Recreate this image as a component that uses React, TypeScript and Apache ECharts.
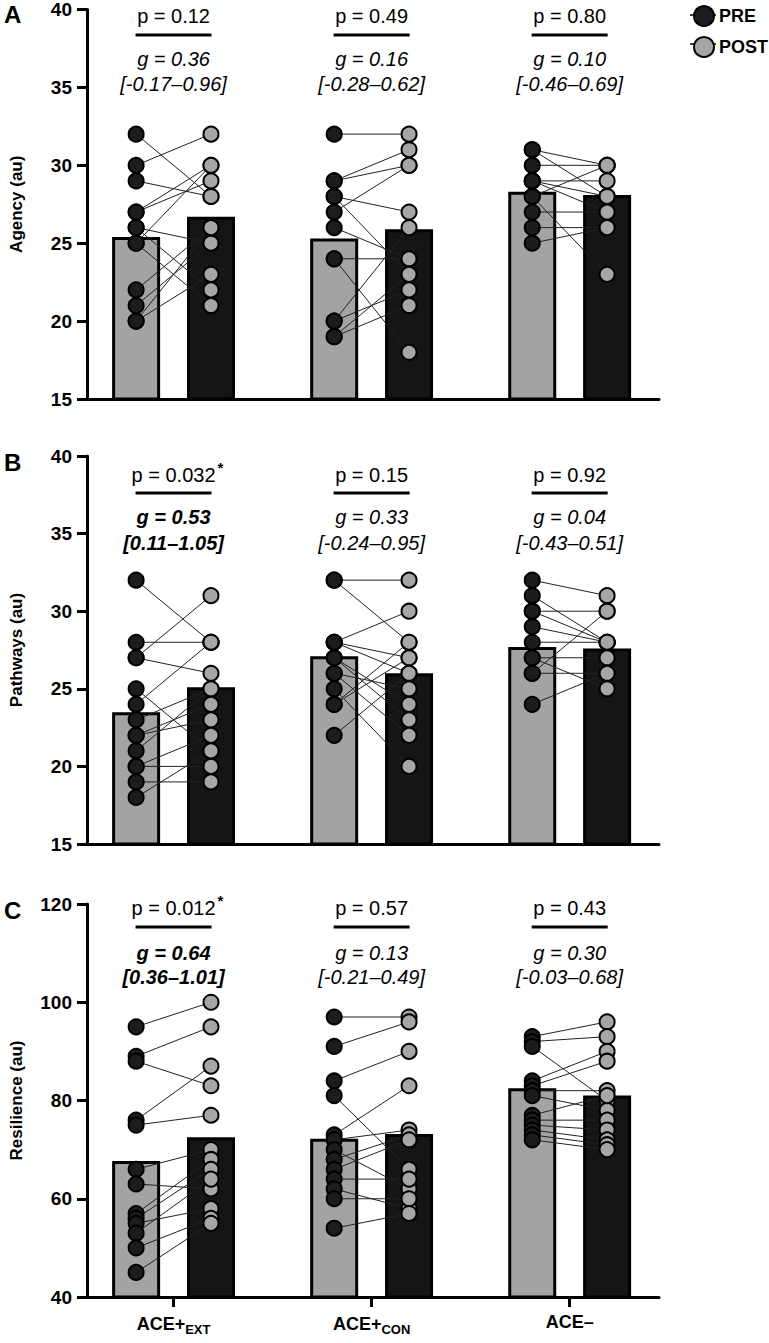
import React, { useEffect, useRef } from "react";
import * as echarts from "echarts";

// ---------- DATA ----------
const groupLabels = ["ACE+EXT", "ACE+CON", "ACE–"];

// Panel A – Agency
const agencyPreMean = [25.3, 25.2, 28.2];
const agencyPostMean = [26.6, 25.8, 28.0];
const agencyExtPre = [32, 30, 29, 27, 27, 26, 26, 25, 25, 22, 21, 20, 20];
const agencyExtPost = [28, 32, 28, 30, 29, 25, 22, 30, 21, 26, 25, 26, 23];
const agencyConPre = [32, 29, 29, 28, 28, 27, 26, 24, 24, 20, 20, 19, 19];
const agencyConPost = [32, 31, 30, 27, 23, 30, 24, 24, 18, 26, 22, 21, 23];
const agencyNegPre = [31, 31, 30, 29, 29, 29, 28, 28, 27, 26, 25];
const agencyNegPost = [30, 28, 30, 29, 28, 27, 30, 23, 27, 26, 26];
const agencyP = ["p = 0.12", "p = 0.49", "p = 0.80"];
const agencyG = ["g = 0.36", "g = 0.16", "g = 0.10"];
const agencyCI = ["[-0.17–0.96]", "[-0.28–0.62]", "[-0.46–0.69]"];
const agencySig = [false, false, false];

// Panel B – Pathways
const pathPreMean = [23.4, 27.0, 27.6];
const pathPostMean = [25.0, 25.9, 27.5];
const pathExtPre = [32, 28, 27, 27, 25, 24, 23, 22, 22, 21, 20, 20, 19, 18];
const pathExtPost = [28, 28, 31, 26, 21, 28, 25, 24, 23, 25, 22, 20, 19, 21];
const pathConPre = [32, 32, 28, 28, 28, 27, 27, 26, 26, 25, 24, 24, 22];
const pathConPost = [32, 28, 30, 27, 26, 23, 24, 22, 25, 20, 27, 28, 26];
const pathNegPre = [32, 31, 30, 30, 29, 28, 27, 27, 26, 26, 24];
const pathNegPost = [31, 28, 30, 28, 28, 28, 27, 25, 26, 30, 26];
const pathP = ["p = 0.032", "p = 0.15", "p = 0.92"];
const pathG = ["g = 0.53", "g = 0.33", "g = 0.04"];
const pathCI = ["[0.11–1.05]", "[-0.24–0.95]", "[-0.43–0.51]"];
const pathSig = [true, false, false];

// Panel C – Resilience
const resPreMean = [67.4, 71.9, 82.2];
const resPostMean = [72.2, 72.9, 80.7];
const resExtPre = [95, 89, 88, 76, 75, 66, 63, 57, 56, 55, 53, 50, 45];
const resExtPost = [100, 95, 83, 87, 77, 70, 62, 68, 66, 58, 64, 56, 55];
const resConPre = [97, 91, 84, 81, 73, 72, 70, 68, 66, 64, 62, 60, 54];
const resConPost = [97, 96, 90, 66, 83, 74, 62, 73, 72, 64, 58, 60, 57];
const resNegPre = [93, 92, 91, 84, 83, 82, 81, 77, 76, 75, 74, 73, 72];
const resNegPost = [96, 93, 80, 90, 88, 82, 78, 81, 76, 74, 72, 71, 70];
const resP = ["p = 0.012", "p = 0.57", "p = 0.43"];
const resG = ["g = 0.64", "g = 0.13", "g = 0.30"];
const resCI = ["[0.36–1.01]", "[-0.21–0.49]", "[-0.03–0.68]"];
const resSig = [true, false, false];

// ---------- LAYOUT / STYLE ----------
const FONT = '"Liberation Sans", Arial, Helvetica, sans-serif';
const GRID_LEFT = 87;
const GRID_W = 572;
const X_MIN = -0.437;
const X_MAX = 2.451;
const OFF = 0.189;
const BAR_W = 45;
const GRAY = "#a3a3a3";
const DARK = "#151515";

const panels = [
  {
    letter: "A", name: "Agency (au)", top: 8, height: 391, min: 15, max: 40, interval: 5,
    preMean: agencyPreMean, postMean: agencyPostMean,
    pre: [agencyExtPre, agencyConPre, agencyNegPre], post: [agencyExtPost, agencyConPost, agencyNegPost],
    p: agencyP, g: agencyG, ci: agencyCI, sig: agencySig, ann: [8, 27, 51, 76], showX: false,
  },
  {
    letter: "B", name: "Pathways (au)", top: 456, height: 388, min: 15, max: 40, interval: 5,
    preMean: pathPreMean, postMean: pathPostMean,
    pre: [pathExtPre, pathConPre, pathNegPre], post: [pathExtPost, pathConPost, pathNegPost],
    p: pathP, g: pathG, ci: pathCI, sig: pathSig, ann: [19, 37, 61, 87], showX: false,
  },
  {
    letter: "C", name: "Resilience (au)", top: 904, height: 393, min: 40, max: 120, interval: 20,
    preMean: resPreMean, postMean: resPostMean,
    pre: [resExtPre, resConPre, resNegPre], post: [resExtPost, resConPost, resNegPost],
    p: resP, g: resG, ci: resCI, sig: resSig, ann: [4, 23, 49, 73], showX: true,
  },
];

const xPx = (v: number) => GRID_LEFT + ((v - X_MIN) / (X_MAX - X_MIN)) * GRID_W;

function buildOption() {
  const grid: any[] = [];
  const xAxis: any[] = [];
  const yAxis: any[] = [];
  const series: any[] = [];
  const graphic: any[] = [];

  panels.forEach((pn, k) => {
    grid.push({ left: GRID_LEFT, top: pn.top, width: GRID_W, height: pn.height, containLabel: false });
    xAxis.push({
      type: "value", gridIndex: k, min: X_MIN, max: X_MAX,
      axisLine: { show: true, onZero: false, lineStyle: { color: "#000", width: 3 } },
      axisTick: { show: pn.showX, customValues: [0, 1, 2], length: 10, lineStyle: { color: "#000", width: 3 } },
      axisLabel: {
        show: pn.showX, customValues: [0, 1, 2], margin: 14,
        formatter: (v: number) => {
          const i = Math.round(v);
          if (i === 0) return "{a|ACE+}{s|EXT}";
          if (i === 1) return "{a|ACE+}{s|CON}";
          return "{a|" + groupLabels[2] + "}";
        },
        rich: {
          a: { fontFamily: FONT, fontWeight: "bold", fontSize: 18, color: "#000", lineHeight: 22 },
          s: { fontFamily: FONT, fontWeight: "bold", fontSize: 13, color: "#000", padding: [12, 0, 0, 0] },
        },
      },
      splitLine: { show: false },
    });
    yAxis.push({
      type: "value", gridIndex: k, min: pn.min, max: pn.max, interval: pn.interval,
      name: pn.name, nameLocation: "middle", nameGap: 62, nameRotate: 90,
      nameTextStyle: { fontFamily: FONT, fontWeight: "bold", fontSize: 17, color: "#000" },
      axisLine: { show: true, onZero: false, lineStyle: { color: "#000", width: 3 } },
      axisTick: { show: true, inside: false, length: 10, lineStyle: { color: "#000", width: 3 } },
      axisLabel: { fontFamily: FONT, fontWeight: "bold", fontSize: 19, color: "#000", margin: 15 },
      splitLine: { show: false },
    });

    // bars
    const barData: any[] = [];
    for (let i = 0; i < 3; i++) {
      barData.push([i - OFF, pn.preMean[i], 0]);
      barData.push([i + OFF, pn.postMean[i], 1]);
    }
    series.push({
      type: "custom", xAxisIndex: k, yAxisIndex: k, z: 1, silent: true,
      data: barData,
      renderItem: (params: any, api: any) => {
        const x = api.value(0);
        const top = api.coord([x, api.value(1)]);
        const base = api.coord([x, pn.min]);
        return {
          type: "rect",
          shape: { x: top[0] - BAR_W / 2, y: top[1], width: BAR_W, height: base[1] - top[1] },
          style: { fill: api.value(2) === 0 ? GRAY : DARK, stroke: "#000", lineWidth: 3 },
        };
      },
    });

    // paired lines
    const pairData: any[] = [];
    for (let i = 0; i < 3; i++) {
      pn.pre[i].forEach((v, j) => pairData.push([i, v, pn.post[i][j]]));
    }
    series.push({
      type: "custom", xAxisIndex: k, yAxisIndex: k, z: 2, silent: true,
      data: pairData,
      renderItem: (params: any, api: any) => {
        const g = api.value(0);
        const a = api.coord([g - OFF, api.value(1)]);
        const b = api.coord([g + OFF, api.value(2)]);
        return {
          type: "line",
          shape: { x1: a[0], y1: a[1], x2: b[0], y2: b[1] },
          style: { stroke: "#222", lineWidth: 1 },
        };
      },
    });

    // dots
    const preDots: any[] = [];
    const postDots: any[] = [];
    for (let i = 0; i < 3; i++) {
      pn.pre[i].forEach((v) => preDots.push([i - OFF, v]));
      pn.post[i].forEach((v) => postDots.push([i + OFF, v]));
    }
    series.push({
      name: "PRE", type: "scatter", xAxisIndex: k, yAxisIndex: k, z: 3,
      symbol: "circle", symbolSize: 15, data: preDots,
      itemStyle: { color: "#1c1c1c", borderColor: "#000", borderWidth: 2, opacity: 1 },
    });
    series.push({
      name: "POST", type: "scatter", xAxisIndex: k, yAxisIndex: k, z: 4,
      symbol: "circle", symbolSize: 15, data: postDots,
      itemStyle: { color: "#a6a6a6", borderColor: "#000", borderWidth: 2, opacity: 1 },
    });

    // panel letter
    graphic.push({
      type: "text", x: 4, y: pn.top - 6,
      style: { text: pn.letter, fontFamily: FONT, fontWeight: "bold", fontSize: 24, fill: "#000" },
    });

    // annotations
    for (let i = 0; i < 3; i++) {
      const cx = xPx(i);
      const [pY, lY, gY, cY] = pn.ann.map((d) => pn.top + d);
      graphic.push({
        type: "text", x: cx, y: pY,
        style: { text: pn.p[i], fontFamily: FONT, fontSize: 20, fill: "#000", align: "center", verticalAlign: "middle", textAlign: "center", textVerticalAlign: "middle" },
      });
      if (pn.sig[i]) {
        graphic.push({
          type: "text", x: cx + 44, y: pY - 8,
          style: { text: "*", fontFamily: FONT, fontWeight: "bold", fontSize: 15, fill: "#000", align: "left", verticalAlign: "middle", textAlign: "left", textVerticalAlign: "middle" },
        });
      }
      graphic.push({
        type: "line", shape: { x1: cx - 38, y1: lY, x2: cx + 38, y2: lY },
        style: { stroke: "#000", lineWidth: 3 },
      });
      const w = pn.sig[i] ? "bold" : "normal";
      graphic.push({
        type: "text", x: cx, y: gY,
        style: { text: pn.g[i], fontFamily: FONT, fontStyle: "italic", fontWeight: w, fontSize: 20, fill: "#000", align: "center", verticalAlign: "middle", textAlign: "center", textVerticalAlign: "middle" },
      });
      graphic.push({
        type: "text", x: cx, y: cY,
        style: { text: pn.ci[i], fontFamily: FONT, fontStyle: "italic", fontWeight: w, fontSize: 20, fill: "#000", align: "center", verticalAlign: "middle", textAlign: "center", textVerticalAlign: "middle" },
      });
    }
  });

  // legend connector strokes
  graphic.push({ type: "line", z: -1, shape: { x1: 690, y1: 15, x2: 716, y2: 15 }, style: { stroke: "#000", lineWidth: 1.5 } });
  graphic.push({ type: "line", z: -1, shape: { x1: 690, y1: 44, x2: 716, y2: 44 }, style: { stroke: "#000", lineWidth: 1.5 } });

  return {
    animation: false,
    backgroundColor: "#fff",
    grid, xAxis, yAxis, series, graphic,
    legend: {
      data: ["PRE", "POST"], orient: "vertical", left: 693, top: 5, padding: 0,
      icon: "circle", itemWidth: 20, itemHeight: 20, itemGap: 9,
      textStyle: { fontFamily: FONT, fontWeight: "bold", fontSize: 18, color: "#000" },
      selectedMode: false,
    },
  };
}

export default function App() {
  const ref = useRef<HTMLDivElement>(null);
  useEffect(() => {
    if (!ref.current) return;
    const chart = echarts.init(ref.current, undefined, { renderer: "svg" });
    chart.setOption(buildOption() as any);
    return () => chart.dispose();
  }, []);
  return <div ref={ref} style={{ width: 769, height: 1343, position: "absolute", left: 0, top: 0 }} />;
}
